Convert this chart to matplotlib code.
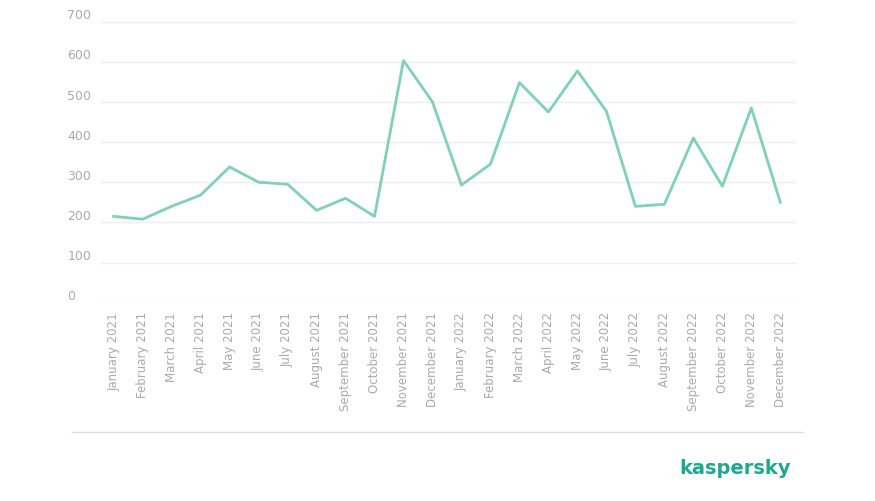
import matplotlib.pyplot as plt
from matplotlib.transforms import ScaledTranslation

months = ["January 2021", "February 2021", "March 2021", "April 2021", "May 2021", "June 2021",
          "July 2021", "August 2021", "September 2021", "October 2021", "November 2021", "December 2021",
          "January 2022", "February 2022", "March 2022", "April 2022", "May 2022", "June 2022",
          "July 2022", "August 2022", "September 2022", "October 2022", "November 2022", "December 2022"]
values = [215, 208, 240, 268, 338, 300, 295, 230, 260, 215, 603, 500,
          293, 345, 548, 475, 577, 477, 240, 245, 410, 290, 485, 250]
yticks = [0, 100, 200, 300, 400, 500, 600, 700]

fig = plt.figure(figsize=(8.75, 5.02), dpi=100)
ax = fig.add_axes([0.115, 0.395, 0.795, 0.56])

x = range(len(values))
ax.plot(x, values, color="#7fd1b9", linewidth=2)

ax.set_ylim(0, 700)
ax.set_xlim(-0.45, len(values) - 0.45)
ax.set_yticks(yticks)
ax.set_xticks(list(x))
ax.set_xticklabels(months, rotation=90, fontsize=8.5, color="#aaaaaa")
ax.tick_params(axis="y", labelsize=9, colors="#aaaaaa", length=0, pad=4)
ax.tick_params(axis="x", length=0, pad=6)
shift = ScaledTranslation(0, 6 / 72, fig.dpi_scale_trans)
for lab in ax.get_yticklabels():
    lab.set_horizontalalignment("left")
    lab.set_x(-0.04)
    lab.set_transform(lab.get_transform() + shift)
ax.grid(axis="y", color="#eeeeee", linewidth=1)
ax.set_axisbelow(True)
for s in ax.spines.values():
    s.set_visible(False)

# bottom separator line and logo
fig.add_artist(plt.Line2D([0.082, 0.918], [0.137, 0.137], color="#dddddd", linewidth=1))
fig.text(0.84, 0.055, "kaspersky", color="#1fa88f", fontsize=14, fontweight="bold", ha="center")

fig.savefig("out.png")
